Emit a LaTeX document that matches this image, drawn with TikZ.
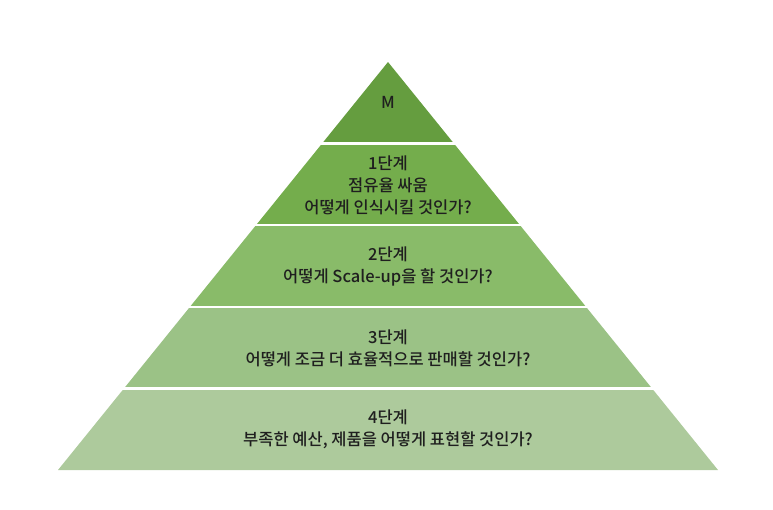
\documentclass[tikz,border=0pt]{standalone}
\usepackage{fontspec}
\setmainfont{Noto Sans CJK KR}[UprightFont={* Medium}]
\begin{document}
\begin{tikzpicture}[x=1pt,y=-1pt,
  lbl/.style={align=center,font=\fontsize{16.5}{22}\selectfont,text=black!88,inner sep=0pt},
  sep/.style={draw=white,line width=2.5pt}]
\useasboundingbox (0,0) rectangle (773,509);
\definecolor{cM}{HTML}{659D3F}
\definecolor{cA}{HTML}{74AD4C}
\definecolor{cB}{HTML}{89BB69}
\definecolor{cC}{HTML}{9BC286}
\definecolor{cD}{HTML}{ADCA9C}
% apex (388,62), base y=470, half width 330
\coordinate (apex) at (388,62);
\fill[cM] (388,62) -- (454,143.6) -- (322,143.6) -- cycle;
\fill[cA] (322,143.6) -- (454,143.6) -- (520,225.2) -- (256,225.2) -- cycle;
\fill[cB] (256,225.2) -- (520,225.2) -- (586,306.8) -- (190,306.8) -- cycle;
\fill[cC] (190,306.8) -- (586,306.8) -- (652,388.4) -- (124,388.4) -- cycle;
\fill[cD] (124,388.4) -- (652,388.4) -- (718,470) -- (58,470) -- cycle;
\draw[sep] (300,143.6) -- (476,143.6);
\draw[sep] (234,225.2) -- (542,225.2);
\draw[sep] (168,306.8) -- (608,306.8);
\draw[sep] (102,388.4) -- (674,388.4);
\node[lbl] (m) at (388,102) {M};
\node[lbl] (s1) at (388,185) {1단계\\점유율 싸움\\어떻게 인식시킬 것인가?};
\node[lbl] (s2) at (388,266) {2단계\\어떻게 Scale-up을 할 것인가?};
\node[lbl] (s3) at (388,348) {3단계\\어떻게 조금 더 효율적으로 판매할 것인가?};
\node[lbl] (s4) at (388,429) {4단계\\부족한 예산, 제품을 어떻게 표현할 것인가?};
\end{tikzpicture}
\end{document}
